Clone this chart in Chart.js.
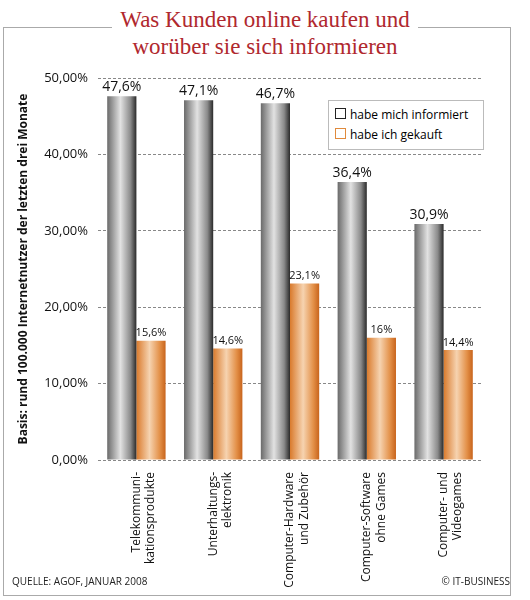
<!DOCTYPE html>
<html><head><meta charset="utf-8">
<script src="https://cdn.jsdelivr.net/npm/chart.js@4"></script>
<style>
body{margin:0;background:#fff;font-family:"Open Sans",sans-serif}
#wrap{position:relative;width:530px;height:600px}
#frame{position:absolute;left:3px;top:27px;width:506px;height:567px;border:1px solid #aaa}
#title{position:absolute;left:0;top:6px;width:530px;text-align:center;font-family:"Liberation Serif",serif;color:#b0282e;font-size:23px;line-height:27px}
#title span{background:#fff;padding:0 8px}
#legend{position:absolute;left:328px;top:100px;width:148px;border:1px solid #bbb;background:#fff;font-size:12px;padding:4px 0 4px 6px;line-height:20px}
.sw{display:inline-block;width:9px;height:9px;border:1px solid #222;margin-right:4px}
.foot{position:absolute;top:574px;font-size:10px;color:#222}
canvas{position:absolute;left:0;top:0}
</style></head><body>
<div id="wrap">
<div id="frame"></div>
<div id="title"><span>Was Kunden online kaufen und</span><br><span>worüber sie sich informieren</span></div>
<canvas id="c" width="530" height="600"></canvas>
<div id="legend"><div><span class="sw"></span>habe mich informiert</div><div><span class="sw" style="border-color:#e08a3c"></span>habe ich gekauft</div></div>
<div class="foot" style="left:12px">QUELLE: AGOF, JANUAR 2008</div>
<div class="foot" style="right:20px">© IT-BUSINESS</div>
</div>
<script>
const categories = [
  ["Telekommuni-", "kationsprodukte"],
  ["Unterhaltungs-", "elektronik"],
  ["Computer-Hardware", "und Zubehör"],
  ["Computer-Software", "ohne Games"],
  ["Computer- und", "Videogames"]
];
const informiert = [47.6, 47.1, 46.7, 36.4, 30.9];
const gekauft = [15.6, 14.6, 23.1, 16, 14.4];
const yTicks = [0, 10, 20, 30, 40, 50];

const catPct = 0.76;

// cylinder-like horizontal gradient per bar
function cylinder(stops, side) {
    return (context) => {
        const chart = context.chart;
        const xs = chart.scales.x;
        if (!xs || context.dataIndex === undefined || !(xs.width > 0)) return stops[1];
        const catW = xs.width / categories.length;
        const bw = catW * catPct / 2;
        const c = xs.getPixelForValue(context.dataIndex);
        if (!isFinite(c) || !isFinite(bw)) return stops[1];
        const x0 = side === 0 ? c - bw : c;
        const g = chart.ctx.createLinearGradient(x0, 0, x0 + bw, 0);
        g.addColorStop(0, stops[0]);
        g.addColorStop(0.45, stops[1]);
        g.addColorStop(0.8, stops[2]);
        g.addColorStop(1, stops[3]);
        return g;
    };
}

const valueLabels = {
    id: "valueLabels",
    afterDatasetsDraw(chart) {
        const ctx = chart.ctx;
        ctx.save();
        ctx.textAlign = "center";
        ctx.textBaseline = "bottom";
        ctx.fillStyle = "#111";
        chart.data.datasets.forEach((ds, i) => {
            ctx.font = i === 0 ? "14px 'Open Sans'" : "11px 'Open Sans'";
            chart.getDatasetMeta(i).data.forEach((bar, j) => {
                ctx.fillText(String(ds.data[j]).replace(".", ",") + "%", bar.x, bar.y - 2);
            });
        });
        ctx.restore();
    }
};

new Chart(document.getElementById("c"), {
    type: "bar",
    data: {
        labels: categories,
        datasets: [
            {
                label: "habe mich informiert",
                data: informiert,
                backgroundColor: cylinder(["#6a6a6a", "#e2e2e2", "#8a8a8a", "#2a2a2a"], 0),
                barPercentage: 1,
                categoryPercentage: catPct
            },
            {
                label: "habe ich gekauft",
                data: gekauft,
                backgroundColor: cylinder(["#d97a2c", "#f6d3b0", "#e39048", "#c8641c"], 1),
                barPercentage: 1,
                categoryPercentage: catPct
            }
        ]
    },
    plugins: [valueLabels],
    options: {
        responsive: false,
        animation: false,
        layout: { padding: { left: 12, top: 78, right: 48, bottom: 10 } },
        plugins: { legend: { display: false }, tooltip: { enabled: false } },
        scales: {
            x: {
                grid: { display: false },
                border: { display: false },
                ticks: {
                    maxRotation: 90, minRotation: 90,
                    color: "#111",
                    font: { family: "Open Sans", size: 12 },
                    padding: 4
                },
                afterFit: (s) => { s.height = 130; }
            },
            y: {
                min: 0, max: 50,
                afterBuildTicks: (s) => { s.ticks = yTicks.map(v => ({ value: v })); },
                ticks: {
                    color: "#111",
                    font: { family: "Open Sans", size: 13 },
                    padding: 10,
                    callback: (v) => v.toFixed(2).replace(".", ",") + "%"
                },
                border: { display: false, dash: [3, 2] },
                grid: { color: "#888", drawTicks: false, lineWidth: 1 },
                title: {
                    display: true,
                    text: "Basis: rund 100.000 Internetnutzer der letzten drei Monate",
                    color: "#111",
                    font: { family: "Open Sans", size: 12, weight: "bold" }
                },
                afterFit: (s) => { s.width = 86; }
            }
        }
    }
});
</script>
</body></html>
